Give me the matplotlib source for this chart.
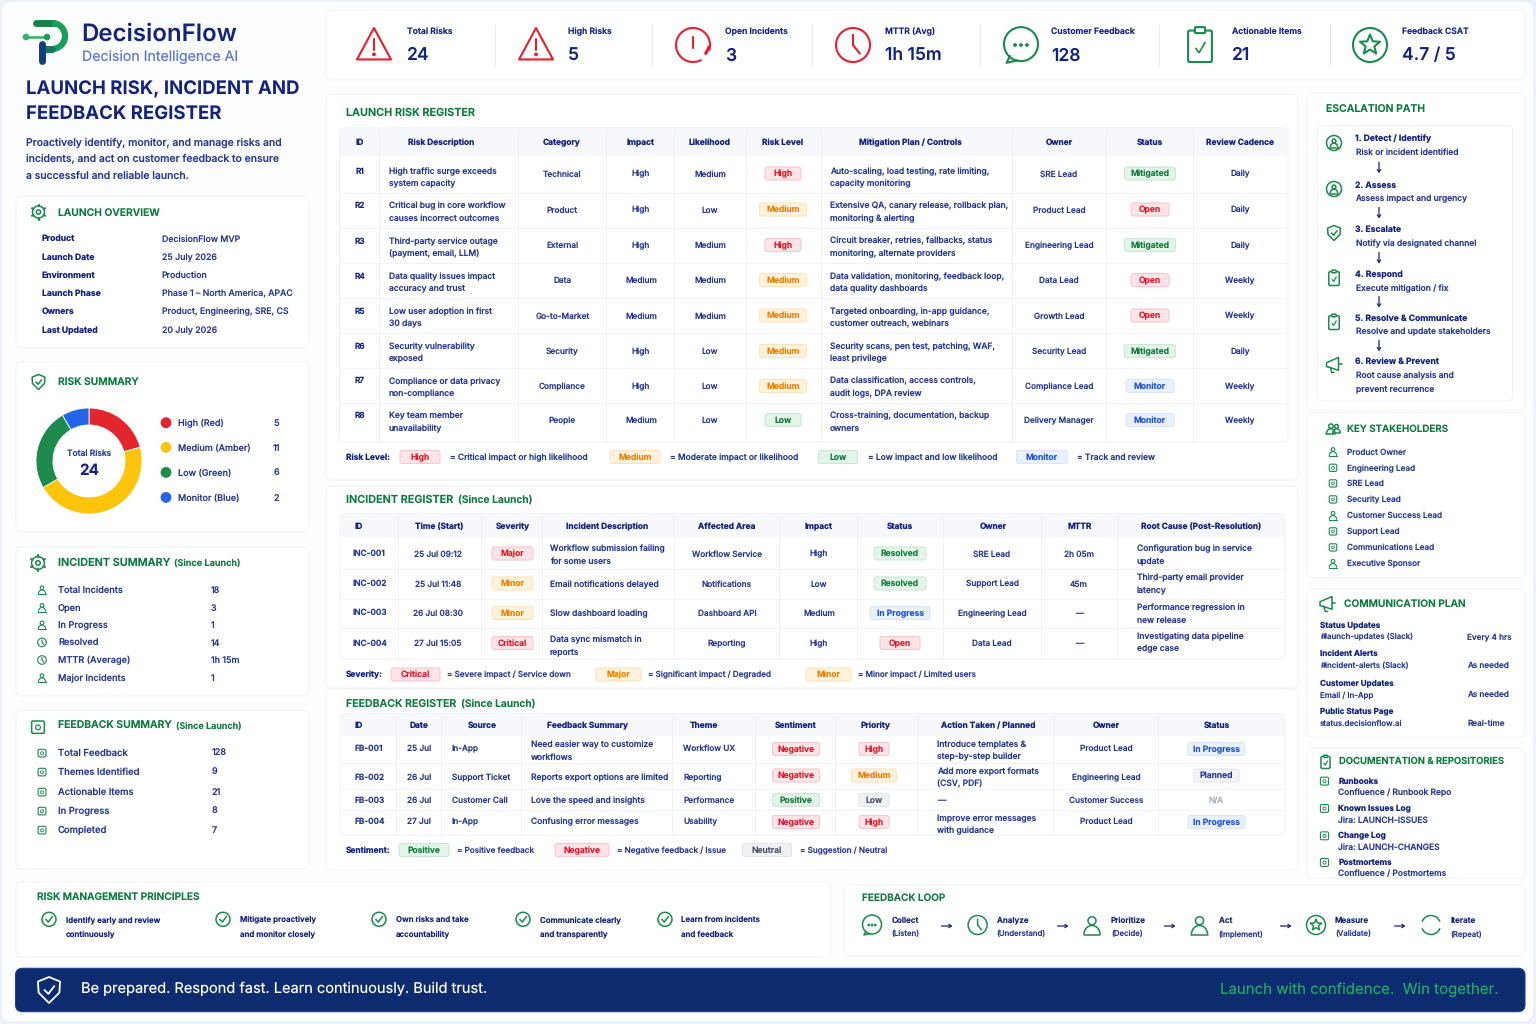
import numpy as np
import matplotlib
matplotlib.use('Agg')
import matplotlib.pyplot as plt
from matplotlib.patches import FancyBboxPatch, Circle, Polygon, Arc

plt.rcParams['font.family'] = ['Inter', 'DejaVu Sans']
# hinting squeezes letters at these small sizes
plt.rcParams['text.hinting'] = 'no_hinting'

NAVY = '#14237c'
BODY = '#26388f'
GREEN = '#0f7a3f'
ICON = '#1c8a4c'
RED = '#e5202e'

#### data

KPI_LABELS = ['Total Risks', 'High Risks', 'Open Incidents', 'MTTR (Avg)', 'Customer Feedback', 'Actionable Items', 'Feedback CSAT']
KPI_VALUES = ['24', '5', '3', '1h 15m', '128', '21', '4.7 / 5']

OVERVIEW_KEYS = ['Product', 'Launch Date', 'Environment', 'Launch Phase', 'Owners', 'Last Updated']
OVERVIEW_VALUES = ['DecisionFlow MVP', '25 July 2026', 'Production', 'Phase 1 – North America, APAC', 'Product, Engineering, SRE, CS', '20 July 2026']

RISK_LEVELS = ['High (Red)', 'Medium (Amber)', 'Low (Green)', 'Monitor (Blue)']
RISK_COUNTS = [5, 11, 6, 2]

INCIDENT_KEYS = ['Total Incidents', 'Open', 'In Progress', 'Resolved', 'MTTR (Average)', 'Major Incidents']
INCIDENT_VALUES = ['18', '3', '1', '14', '1h 15m', '1']
FEEDBACK_KEYS = ['Total Feedback', 'Themes Identified', 'Actionable Items', 'In Progress', 'Completed']
FEEDBACK_VALUES = ['128', '9', '21', '8', '7']

R_HEAD = ['ID', 'Risk Description', 'Category', 'Impact', 'Likelihood', 'Risk Level', 'Mitigation Plan / Controls', 'Owner', 'Status', 'Review Cadence']
R_ID = ['R1', 'R2', 'R3', 'R4', 'R5', 'R6', 'R7', 'R8']
R_DESC = ['High traffic surge exceeds\nsystem capacity', 'Critical bug in core workflow\ncauses incorrect outcomes',
          'Third-party service outage\n(payment, email, LLM)', 'Data quality issues impact\naccuracy and trust',
          'Low user adoption in first\n30 days', 'Security vulnerability\nexposed',
          'Compliance or data privacy\nnon-compliance', 'Key team member\nunavailability']
R_CAT = ['Technical', 'Product', 'External', 'Data', 'Go-to-Market', 'Security', 'Compliance', 'People']
R_IMPACT = ['High', 'High', 'High', 'Medium', 'Medium', 'High', 'High', 'Medium']
R_LIKE = ['Medium', 'Low', 'Medium', 'Medium', 'Medium', 'Low', 'Low', 'Low']
R_LEVEL = ['High', 'Medium', 'High', 'Medium', 'Medium', 'Medium', 'Medium', 'Low']
R_PLAN = ['Auto-scaling, load testing, rate limiting,\ncapacity monitoring', 'Extensive QA, canary release, rollback plan,\nmonitoring & alerting',
          'Circuit breaker, retries, fallbacks, status\nmonitoring, alternate providers', 'Data validation, monitoring, feedback loop,\ndata quality dashboards',
          'Targeted onboarding, in-app guidance,\ncustomer outreach, webinars', 'Security scans, pen test, patching, WAF,\nleast privilege',
          'Data classification, access controls,\naudit logs, DPA review', 'Cross-training, documentation, backup\nowners']
R_OWNER = ['SRE Lead', 'Product Lead', 'Engineering Lead', 'Data Lead', 'Growth Lead', 'Security Lead', 'Compliance Lead', 'Delivery Manager']
R_STATUS = ['Mitigated', 'Open', 'Mitigated', 'Open', 'Open', 'Mitigated', 'Monitor', 'Monitor']
R_CADENCE = ['Daily', 'Daily', 'Daily', 'Weekly', 'Weekly', 'Daily', 'Weekly', 'Weekly']

I_HEAD = ['ID', 'Time (Start)', 'Severity', 'Incident Description', 'Affected Area', 'Impact', 'Status', 'Owner', 'MTTR', 'Root Cause (Post-Resolution)']
I_ID = ['INC-001', 'INC-002', 'INC-003', 'INC-004']
I_TIME = ['25 Jul 09:12', '25 Jul 11:48', '26 Jul 08:30', '27 Jul 15:05']
I_SEV = ['Major', 'Minor', 'Minor', 'Critical']
I_DESC = ['Workflow submission failing\nfor some users', 'Email notifications delayed', 'Slow dashboard loading', 'Data sync mismatch in\nreports']
I_AREA = ['Workflow Service', 'Notifications', 'Dashboard API', 'Reporting']
I_IMPACT = ['High', 'Low', 'Medium', 'High']
I_STATUS = ['Resolved', 'Resolved', 'In Progress', 'Open']
I_OWNER = ['SRE Lead', 'Support Lead', 'Engineering Lead', 'Data Lead']
I_MTTR = ['2h 05m', '45m', '—', '—']
I_ROOT = ['Configuration bug in service\nupdate', 'Third-party email provider\nlatency', 'Performance regression in\nnew release', 'Investigating data pipeline\nedge case']

F_HEAD = ['ID', 'Date', 'Source', 'Feedback Summary', 'Theme', 'Sentiment', 'Priority', 'Action Taken / Planned', 'Owner', 'Status']
F_ID = ['FB-001', 'FB-002', 'FB-003', 'FB-004']
F_DATE = ['25 Jul', '26 Jul', '26 Jul', '27 Jul']
F_SOURCE = ['In-App', 'Support Ticket', 'Customer Call', 'In-App']
F_SUMMARY = ['Need easier way to customize\nworkflows', 'Reports export options are limited', 'Love the speed and insights', 'Confusing error messages']
F_THEME = ['Workflow UX', 'Reporting', 'Performance', 'Usability']
F_SENT = ['Negative', 'Negative', 'Positive', 'Negative']
F_PRIO = ['High', 'Medium', 'Low', 'High']
F_ACTION = ['Introduce templates &\nstep-by-step builder', 'Add more export formats\n(CSV, PDF)', '—', 'Improve error messages\nwith guidance']
F_OWNER = ['Product Lead', 'Engineering Lead', 'Customer Success', 'Product Lead']
F_STATUS = ['In Progress', 'Planned', 'N/A', 'In Progress']

ESC_TITLES = ['1. Detect / Identify', '2. Assess', '3. Escalate', '4. Respond', '5. Resolve & Communicate', '6. Review & Prevent']
ESC_TEXT = ['Risk or incident identified', 'Assess impact and urgency', 'Notify via designated channel', 'Execute mitigation / fix',
            'Resolve and update stakeholders', 'Root cause analysis and\nprevent recurrence']
STAKEHOLDERS = ['Product Owner', 'Engineering Lead', 'SRE Lead', 'Security Lead', 'Customer Success Lead', 'Support Lead', 'Communications Lead', 'Executive Sponsor']
COMM_TITLES = ['Status Updates', 'Incident Alerts', 'Customer Updates', 'Public Status Page']
COMM_CHANNELS = ['#launch-updates (Slack)', '#incident-alerts (Slack)', 'Email / In-App', 'status.decisionflow.ai']
COMM_FREQ = ['Every 4 hrs', 'As needed', 'As needed', 'Real-time']
DOC_TITLES = ['Runbooks', 'Known Issues Log', 'Change Log', 'Postmortems']
DOC_TEXT = ['Confluence / Runbook Repo', 'Jira: LAUNCH-ISSUES', 'Jira: LAUNCH-CHANGES', 'Confluence / Postmortems']
PRINCIPLES = ['Identify early and review\ncontinuously', 'Mitigate proactively\nand monitor closely', 'Own risks and take\naccountability',
              'Communicate clearly\nand transparently', 'Learn from incidents\nand feedback']
LOOP_TOP = ['Collect', 'Analyze', 'Prioritize', 'Act', 'Measure', 'Iterate']
LOOP_SUB = ['(Listen)', '(Understand)', '(Decide)', '(Implement)', '(Validate)', '(Repeat)']

#### pill styles: fill, edge, text
RED_P = ('#fde4e6', '#f9c9ce', '#e3172b')
AMB_P = ('#fff2dc', '#fde4bd', '#ef7d00')
GRN_P = ('#e3f4e8', '#c9e9d4', '#11783c')
BLU_P = ('#e9f0fe', '#dae5fb', '#1b4fd8')
GRY_P = ('#eff1f4', '#e2e5ea', '#4a5568')
PLN_P = ('#f1f3f9', '#e6e9f3', '#26388f')
PILL = {'High': RED_P, 'Medium': AMB_P, 'Low': GRN_P, 'Mitigated': GRN_P, 'Open': RED_P, 'Monitor': BLU_P,
        'Major': RED_P, 'Minor': AMB_P, 'Critical': RED_P, 'Resolved': GRN_P, 'In Progress': BLU_P,
        'Negative': RED_P, 'Positive': GRN_P, 'Neutral': GRY_P, 'Planned': PLN_P}

fig = plt.figure(figsize=(15.36, 10.24), dpi=100, facecolor='#eef3fb')
ax = fig.add_axes([0, 0, 1, 1])
ax.set_xlim(0, 1536)
ax.set_ylim(1024, 0)
ax.axis('off')


def box(x0, y0, x1, y1, r=6, fc='white', ec='#f1f3f9', lw=0.8, z=1):
    ax.add_patch(FancyBboxPatch((x0, y0), x1 - x0, y1 - y0, boxstyle=f'round,pad=0,rounding_size={r}',
                                fc=fc, ec=ec, lw=lw, zorder=z))


def T(x, y, s, size=5.95, color=BODY, weight=500, ha='left', **kw):
    # the small offset puts the x-height on the given y
    ax.text(x, y + 0.7, s, fontsize=size, color=color, fontweight=weight, ha=ha, va='center', zorder=5, **kw)


def lines(x, yc, s, gap=12.6, size=6.12, ha='left', color=BODY, weight=500):
    parts = s.split('\n')
    y0 = yc - gap * (len(parts) - 1) / 2
    for i, p in enumerate(parts):
        T(x, y0 + i * gap, p, size=size, ha=ha, color=color, weight=weight)


def pill(cx, cy, s, w, h=13, style=None, size=6.15):
    fc, ec, tc = style or PILL[s]
    box(cx - w / 2, cy - h / 2, cx + w / 2, cy + h / 2, r=2.5, fc=fc, ec=ec, lw=0.8, z=3)
    T(cx, cy - 0.2, s, size=size, color=tc, weight=600, ha='center')


def L(xs, ys, c=ICON, lw=1.1, z=4):
    ax.plot(xs, ys, color=c, lw=lw, zorder=z, solid_capstyle='round', solid_joinstyle='round')


def ring(x, y, r, c=ICON, lw=1.1):
    ax.add_patch(Circle((x, y), r, fill=False, ec=c, lw=lw, zorder=4))


def icon(kind, x, y, s, c=ICON, lw=1.1):
    # little line icons, s is the half size in pixels
    if kind == 'warn':
        ax.add_patch(Polygon([(x, y - s), (x + s, y + s * .85), (x - s, y + s * .85)], closed=True, fill=False, ec=c, lw=lw, joinstyle='round', zorder=4))
        L([x, x], [y - s * .35, y + s * .3], c, lw)
        ax.add_patch(Circle((x, y + s * .55), s * .07, color=c, zorder=4))
    elif kind == 'clock':
        ring(x, y, s, c, lw)
        L([x, x, x + s * .4], [y - s * .6, y, y + s * .5], c, lw)
    elif kind == 'headset':
        ax.add_patch(Arc((x, y), 2 * s, 2 * s, theta1=60, theta2=20, ec=c, lw=lw, zorder=4))
        L([x, x], [y - s * .5, y + s * .2], c, lw)
        L([x + s * .95, x + s * .75], [y + s * .1, y + s * .5], c, lw * 1.5)
    elif kind == 'chat':
        ring(x, y - s * .05, s, c, lw)
        L([x - s * .65, x - s * .85, x - s * .2], [y + s * .65, y + s * 1.05, y + s * .9], c, lw)
        for d in (-.35, 0, .35):
            ax.add_patch(Circle((x + d * s, y), s * .07, color=c, zorder=4))
    elif kind == 'clip':
        box(x - s * .7, y - s * .85, x + s * .7, y + s, r=1.5, fc='none', ec=c, lw=lw, z=4)
        box(x - s * .3, y - s * 1.05, x + s * .3, y - s * .7, r=1, fc='white', ec=c, lw=lw, z=4)
        L([x - s * .25, x - s * .05, x + s * .3], [y + s * .2, y + s * .45, y - s * .15], c, lw * .8)
    elif kind == 'star':
        ring(x, y, s, c, lw)
        a = np.deg2rad(np.arange(10) * 36 - 90)
        r = np.where(np.arange(10) % 2 == 0, s * .62, s * .27)
        ax.add_patch(Polygon(np.c_[x + r * np.cos(a), y + r * np.sin(a)], closed=True, fill=False, ec=c, lw=lw, joinstyle='round', zorder=4))
    elif kind == 'shield':
        pts = [(x, y - s), (x + s * .85, y - s * .65), (x + s * .8, y + s * .2), (x, y + s), (x - s * .8, y + s * .2), (x - s * .85, y - s * .65)]
        ax.add_patch(Polygon(pts, closed=True, fill=False, ec=c, lw=lw, joinstyle='round', zorder=4))
        L([x - s * .35, x - s * .05, x + s * .4], [y, y + s * .3, y - s * .3], c, lw)
    elif kind == 'gear':
        ring(x, y, s * .8, c, lw)
        ring(x, y, s * .28, c, lw)
        for a in np.deg2rad(np.arange(0, 360, 60) + 30):
            L([x + s * .8 * np.cos(a), x + s * np.cos(a)], [y + s * .8 * np.sin(a), y + s * np.sin(a)], c, lw * 1.4)
    elif kind == 'person':
        ring(x, y - s * .45, s * .42, c, lw)
        ax.add_patch(Arc((x, y + s), 1.7 * s, 1.9 * s, theta1=180, theta2=360, ec=c, lw=lw, zorder=4))
        L([x - s * .85, x + s * .85], [y + s, y + s], c, lw)
    elif kind == 'people':
        icon('person', x - s * .3, y, s * .75, c, lw)
        icon('person', x + s * .5, y, s * .65, c, lw)
    elif kind == 'cperson':
        ring(x, y, s, c, lw)
        icon('person', x, y, s * .6, c, lw)
    elif kind == 'box':
        box(x - s * .85, y - s * .8, x + s * .85, y + s * .85, r=1.5, fc='none', ec=c, lw=lw, z=4)
        ring(x, y + s * .05, s * .32, c, lw * .8)
    elif kind == 'check':
        ring(x, y, s, c, lw)
        L([x - s * .45, x - s * .1, x + s * .5], [y, y + s * .4, y - s * .4], c, lw)
    elif kind == 'mega':
        ax.add_patch(Polygon([(x - s, y - s * .3), (x + s * .6, y - s), (x + s * .6, y + s * .7), (x - s, y + s * .2)], closed=True, fill=False, ec=c, lw=lw, joinstyle='round', zorder=4))
        L([x + s * .6, x + s], [y - s * .1, y - s * .1], c, lw)
        L([x - s * .5, x - s * .3, x], [y + s * .3, y + s, y + s], c, lw)
    elif kind == 'loop':
        ax.add_patch(Arc((x, y), 2 * s, 2 * s, theta1=20, theta2=160, ec=c, lw=lw, zorder=4))
        ax.add_patch(Arc((x, y), 2 * s, 2 * s, theta1=200, theta2=340, ec=c, lw=lw, zorder=4))


def arrow(x0, y0, x1, y1, c=NAVY, lw=0.9):
    ax.annotate('', xy=(x1, y1), xytext=(x0, y0), zorder=5,
                arrowprops=dict(arrowstyle='->,head_length=0.18,head_width=0.12', color=c, lw=lw, shrinkA=0, shrinkB=0))


#### page and panels
box(1, 1, 1534, 1022, r=10, fc='#fcfdfe', ec='#e6edf8', z=0)
for b in [(16, 196, 309, 348), (16, 362, 309, 532), (16, 547, 309, 696), (16, 710, 309, 869), (326, 10, 1525, 80),
          (326, 94, 1298, 480), (326, 486, 1298, 688), (326, 689, 1298, 870), (1307, 93, 1525, 410),
          (1307, 413, 1525, 578), (1307, 589, 1525, 737), (1307, 748, 1525, 878), (16, 882, 831, 957), (844, 885, 1525, 956)]:
    box(*b)

#### logo and title
L([36, 54], [23, 23], '#15824a', 5)
ax.add_patch(Arc((52, 36), 26, 26, theta1=-90, theta2=90, ec='#17a05a', lw=4.5, zorder=4))
L([52, 44], [49, 49], '#127a5a', 5)
L([42, 42], [44, 61], '#123f7a', 5)
L([26, 47], [37, 37], '#2fb56a', 1.8)
ax.add_patch(Circle((26, 37), 2.6, color='#2fb56a', zorder=5))
ax.add_patch(Circle((47, 37), 2.6, color='#17a05a', zorder=5))
T(81.5, 33.5, 'DecisionFlow', size=17.3, color=NAVY, weight=600)
T(82, 56.5, 'Decision Intelligence AI', size=10.2, color='#5f78cf', weight=400)
T(26, 89, 'LAUNCH RISK, INCIDENT AND', size=13.4, color=NAVY, weight=700)
T(26, 114.5, 'FEEDBACK REGISTER', size=13.4, color=NAVY, weight=700)
for y, s in zip([142, 158.5, 175], ['Proactively identify, monitor, and manage risks and', 'incidents, and act on customer feedback to ensure', 'a successful and reliable launch.']):
    T(26, y, s, size=7.5)

#### KPI strip
kpi_icon_x = [374, 536, 693, 853, 1021, 1200, 1370]
kpi_text_x = [407, 568, 725, 885, 1051, 1232, 1402]
kpi_kinds = ['warn', 'warn', 'headset', 'clock', 'chat', 'clip', 'star']
kpi_cols = [RED, RED, RED, RED, ICON, ICON, ICON]
for i in range(7):
    icon(kpi_kinds[i], kpi_icon_x[i], 45, 17, kpi_cols[i], 1.5)
    T(kpi_text_x[i], 31, KPI_LABELS[i], size=6.2, color=NAVY, weight=600)
    T(kpi_text_x[i], 55, KPI_VALUES[i], size=12.6, color=NAVY, weight=600)
for x in [494.5, 652, 812, 980, 1159, 1330]:
    L([x, x], [24, 66], '#e8ebf4', 0.8)

#### overview
icon('gear', 38.5, 212, 7.5)
T(58, 212, 'LAUNCH OVERVIEW', size=7.4, color=GREEN, weight=600)
for i, y in enumerate([238.3, 256.7, 275, 293.3, 311.3, 329.7]):
    T(41.5, y, OVERVIEW_KEYS[i], size=6.2, color=NAVY, weight=700)
    T(161.5, y, OVERVIEW_VALUES[i], size=6.3)

#### risk summary with donut
icon('shield', 38.5, 382, 7.5)
T(58, 381, 'RISK SUMMARY', size=7.4, color=GREEN, weight=600)
donut_colors = ['#e3262e', '#fcc40a', '#1f8a4d', '#2365e6']
dax = fig.add_axes([(89 - 53) / 1536, 1 - (461 + 53) / 1024, 106 / 1536, 106 / 1024])
dax.pie(RISK_COUNTS, colors=donut_colors, startangle=90, counterclock=False, radius=1,
        wedgeprops=dict(width=0.32, edgecolor='white', linewidth=0.6))
dax.set_xlim(-1, 1)
dax.set_ylim(-1, 1)
T(89, 452.5, 'Total Risks', size=6.1, ha='center')
T(89, 470.5, '24', size=11, color=NAVY, weight=700, ha='center')
for i, y in enumerate([422.7, 447.4, 472.4, 497.4]):
    ax.add_patch(Circle((166, y), 4.7, color=donut_colors[i], zorder=4))
    T(177.5, y, RISK_LEVELS[i], size=6.5)
    T(276, y, str(RISK_COUNTS[i]), size=6.5, ha='center')

#### incident and feedback summaries
icon('gear', 38, 563, 8)
T(58, 562, 'INCIDENT SUMMARY', size=7.8, color=GREEN, weight=600)
T(174, 562.5, '(Since Launch)', size=6.6, color=GREEN, weight=600)
for i, y in enumerate([589.7, 607.3, 624.8, 642.4, 660, 677.6]):
    icon('person' if i in (0, 1, 2, 5) else 'clock', 42, y, 4.3, lw=0.8)
    T(58, y, INCIDENT_KEYS[i], size=6.6)
    T(211, y, INCIDENT_VALUES[i], size=6.4)
icon('box', 38, 727, 7.5)
T(58, 725.5, 'FEEDBACK SUMMARY', size=7.5, color=GREEN, weight=600)
T(176, 725.5, '(Since Launch)', size=6.5, color=GREEN, weight=600)
for i, y in enumerate([753, 772, 792, 811, 830]):
    icon('box', 42, y, 4.6, lw=0.8)
    T(58, y, FEEDBACK_KEYS[i], size=6.8)
    T(212, y, FEEDBACK_VALUES[i], size=6.5)


def table(x0, x1, top, head_bot, bot, cols, rows, heads, head_x):
    box(x0, top, x1, bot, r=5, fc='white', ec='#f0f2f8', z=1)
    box(x0, top, x1, head_bot, r=5, fc='#f6f8fb', ec='none', lw=0, z=1.5)
    for x in cols:
        L([x, x], [top, bot], '#f0f2f8', 0.7, z=2)
    for y in rows:
        L([x0, x1], [y, y], '#f0f2f8', 0.7, z=2)
    for x, h in zip(head_x, heads):
        T(x, (top + head_bot) / 2, h, size=6.0, color=NAVY, weight=700, ha='center')


#### risk register
T(346.5, 112.5, 'LAUNCH RISK REGISTER', size=7.8, color=GREEN, weight=600)
table(339.5, 1288, 128, 156, 442, [379, 518, 606, 674, 746, 821, 1012, 1106, 1193], [193, 228, 263, 298, 333, 368, 403],
      R_HEAD, [360, 441, 562, 641, 710, 783, 910, 1059, 1150, 1240])
r_id_y = [170.7, 205, 240.5, 276, 311, 346, 380.5, 415]
r_two_y = [177, 211.5, 247, 282, 317, 352, 387, 421.5]
r_mid_y = [173.5, 209.5, 245, 280, 315.5, 351, 386, 420]
for i in range(8):
    T(360, r_id_y[i], R_ID[i], size=5.9, weight=600, ha='center', color=NAVY)
    lines(389, r_two_y[i], R_DESC[i])
    T(562.5, r_mid_y[i], R_CAT[i], ha='center')
    T(641, r_mid_y[i], R_IMPACT[i], ha='center')
    T(710, r_mid_y[i], R_LIKE[i], ha='center')
    pill(783, r_mid_y[i], R_LEVEL[i], {'High': 36, 'Medium': 47, 'Low': 36}[R_LEVEL[i]])
    lines(830, r_two_y[i], R_PLAN[i])
    T(1059, r_mid_y[i], R_OWNER[i], ha='center')
    pill(1150, r_mid_y[i], R_STATUS[i], {'Mitigated': 51, 'Open': 38, 'Monitor': 48}[R_STATUS[i]])
    T(1240, r_mid_y[i], R_CADENCE[i], ha='center')
T(346.5, 457, 'Risk Level:', size=6, color=NAVY, weight=700)
for cx, w, s, tx, t in [(420, 40, 'High', 450, '= Critical impact or high likelihood'), (635, 50, 'Medium', 670, '= Moderate impact or likelihood'),
                        (838, 39, 'Low', 867.5, '= Low impact and low likelihood'), (1042, 51, 'Monitor', 1077, '= Track and review')]:
    pill(cx, 457, s, w)
    T(tx, 457, t, size=6.1)

#### incident register
T(346.5, 499, 'INCIDENT REGISTER', size=7.8, color=GREEN, weight=600)
T(458, 499, '(Since Launch)', size=7.4, color=GREEN, weight=600)
table(340, 1285, 514, 537.7, 659, [398, 481, 542, 674, 779, 857, 943, 1041, 1117], [568.7, 598.7, 628],
      I_HEAD, [359, 439.5, 513, 607, 727, 819, 900, 993, 1079.5, 1201])
i_id_y = [552.7, 582.7, 612, 643]
i_mid_y = [553.5, 583.5, 613, 643]
i_desc_y = [554.5, 583.7, 613, 645]
i_root_y = [554.5, 583.5, 613.5, 642]
for i in range(4):
    T(353, i_id_y[i], I_ID[i], weight=600)
    T(438, i_mid_y[i], I_TIME[i], ha='center')
    pill(512.5, i_mid_y[i], I_SEV[i], 41)
    lines(550, i_desc_y[i], I_DESC[i])
    T(727, i_mid_y[i], I_AREA[i], ha='center')
    T(819, i_mid_y[i], I_IMPACT[i], ha='center')
    pill(900, i_mid_y[i], I_STATUS[i], {'Resolved': 52, 'In Progress': 60, 'Open': 40}[I_STATUS[i]])
    T(992, i_mid_y[i], I_OWNER[i], ha='center')
    T(1079, i_mid_y[i], I_MTTR[i], ha='center')
    lines(1137, i_root_y[i], I_ROOT[i])
T(346, 674.5, 'Severity:', size=6, color=NAVY, weight=700)
for cx, w, s, tx, t in [(415.5, 49, 'Critical', 447, '= Severe impact / Service down'), (618.5, 45, 'Major', 648, '= Significant impact / Degraded'),
                        (828.5, 45, 'Minor', 858, '= Minor impact / Limited users')]:
    pill(cx, 674.5, s, w, style=AMB_P if s == 'Major' else None)
    T(tx, 674.5, t, size=5.85)

#### feedback register
T(346.5, 703, 'FEEDBACK REGISTER', size=7.6, color=GREEN, weight=600)
T(461, 703, '(Since Launch)', size=7.4, color=GREEN, weight=600)
table(340, 1285, 714, 736, 835, [396, 441, 521, 672, 755, 835, 917, 1053, 1158], [763, 789, 810],
      F_HEAD, [359, 419, 482, 587, 704, 796, 876, 988, 1106, 1217])
f_y = [748, 777, 800, 821]
f_pill_y = [749, 775.5, 800, 822]
f_sum_y = [750.5, 777, 800, 821]
f_act_y = [750, 777, 800, 824.5]
prio_w = {'High': 30, 'Medium': 45, 'Low': 30}
for i in range(4):
    T(355, f_y[i], F_ID[i], weight=600)
    T(419, f_y[i], F_DATE[i], ha='center')
    T(452, f_y[i], F_SOURCE[i])
    lines(531, f_sum_y[i], F_SUMMARY[i])
    T(683, f_y[i], F_THEME[i])
    pill(796, f_pill_y[i], F_SENT[i], 47)
    pill(874, f_pill_y[i], F_PRIO[i], prio_w[F_PRIO[i]], style=GRY_P if F_PRIO[i] == 'Low' else RED_P if F_PRIO[i] == 'High' else AMB_P)
    lines(937, f_act_y[i], F_ACTION[i], gap=12)
    T(1106, f_y[i], F_OWNER[i], ha='center')
    if F_STATUS[i] == 'N/A':
        T(1216.5, f_pill_y[i], F_STATUS[i], color='#a5acba', ha='center')
    else:
        pill(1216.5, f_pill_y[i], F_STATUS[i], 57 if F_STATUS[i] == 'In Progress' else 46)
T(346, 850, 'Sentiment:', size=6, color=NAVY, weight=700)
for cx, w, s, tx, t in [(424, 50, 'Positive', 457, '= Positive feedback'), (582, 54, 'Negative', 617, '= Negative feedback / Issue'),
                        (767, 49, 'Neutral', 800, '= Suggestion / Neutral')]:
    pill(cx, 850, s, w)
    T(tx, 850, t, size=5.85)

#### escalation path
T(1325.5, 109.7, 'ESCALATION PATH', size=7.5, color=GREEN, weight=600)
box(1317.5, 125.7, 1512.7, 401, r=5, fc='white', ec='#f0f2f8', z=1.2)
esc_kinds = ['cperson', 'cperson', 'shield', 'clip', 'clip', 'mega']
esc_title_y = [138.3, 184.7, 229.3, 273.7, 317.7, 360.7]
esc_text_y = [152.3, 198.3, 243.3, 287.7, 331.3, 381.2]
esc_icon_y = [143, 189, 233, 278, 322, 365]
for i in range(6):
    icon(esc_kinds[i], 1334, esc_icon_y[i], 7.5)
    T(1355, esc_title_y[i], ESC_TITLES[i], size=6.2, color=NAVY, weight=700)
    lines(1355.5, esc_text_y[i], ESC_TEXT[i], gap=13, size=6.1)
for y in [167.7, 213, 258, 302, 345.7]:
    arrow(1379, y - 5.5, 1379, y + 5.5)

#### stakeholders
icon('people', 1333, 428.5, 7)
T(1347, 428, 'KEY STAKEHOLDERS', size=7.05, color=GREEN, weight=600)
for i, y in enumerate([451.5, 467.7, 483.3, 499.3, 515.3, 531.3, 547.3, 563.3]):
    icon('person' if i in (0, 4, 7) else 'box', 1333, y, 4.4, lw=0.8)
    T(1347, y, STAKEHOLDERS[i], size=5.9)

#### communication plan
icon('mega', 1327.5, 604, 7.5)
T(1343.5, 603.7, 'COMMUNICATION PLAN', size=7.3, color=GREEN, weight=600)
for i, y in enumerate([624.3, 653.3, 682.3, 711.3]):
    T(1320, y, COMM_TITLES[i], size=5.8, color=NAVY, weight=700)
    T(1320, y + 12, COMM_CHANNELS[i], size=5.7)
    T(1467, y + 12, COMM_FREQ[i], size=5.9)

#### documentation
icon('clip', 1325.5, 762, 6.5)
T(1339, 761, 'DOCUMENTATION & REPOSITORIES', size=6.8, color=GREEN, weight=600)
for i, y in enumerate([781, 808.3, 835.7, 862.3]):
    icon('box', 1324.5, y, 4.8, lw=0.8)
    T(1338.5, y, DOC_TITLES[i], size=5.9, color=NAVY, weight=700)
    T(1338.5, y + 11.2, DOC_TEXT[i], size=6.1)

#### principles
T(37, 896, 'RISK MANAGEMENT PRINCIPLES', size=7.3, color=GREEN, weight=600)
for ix, tx, s in zip([49, 223, 379, 523, 665], [66, 240, 396, 540.5, 681], PRINCIPLES):
    icon('check', ix, 919.3, 7)
    lines(tx, 926.5, s, gap=14.2, size=5.7, color=NAVY, weight=600)

#### feedback loop
T(862, 897, 'FEEDBACK LOOP', size=7.2, color=GREEN, weight=600)
loop_kinds = ['chat', 'clock', 'person', 'person', 'star', 'loop']
for ix, tx, k, a, b in zip([872, 977.6, 1092, 1199.5, 1316, 1431], [891.5, 996.7, 1111, 1218.6, 1335, 1450.7], loop_kinds, LOOP_TOP, LOOP_SUB):
    icon(k, ix, 925, 9.5)
    T(tx, 919.7, a, size=5.8, color=NAVY, weight=600)
    T(tx, 933, b, size=5.6)
for x in [947, 1063, 1170, 1286, 1400]:
    arrow(x - 5.5, 926, x + 5.5, 926)

#### banner
box(15.5, 968.3, 1525, 1011.7, r=7, fc='#0d2b6f', ec='#23408a', lw=0.8, z=2)
icon('shield', 49, 990, 13, 'white', 1.3)
T(81.4, 988.5, 'Be prepared. Respond fast. Learn continuously. Build trust.', size=10.5, color='white', weight=400)
T(1220, 988.5, 'Launch with confidence.  Win together.', size=10.8, color='#25a566', weight=400)

fig.savefig('out.png', dpi=100, facecolor=fig.get_facecolor())
